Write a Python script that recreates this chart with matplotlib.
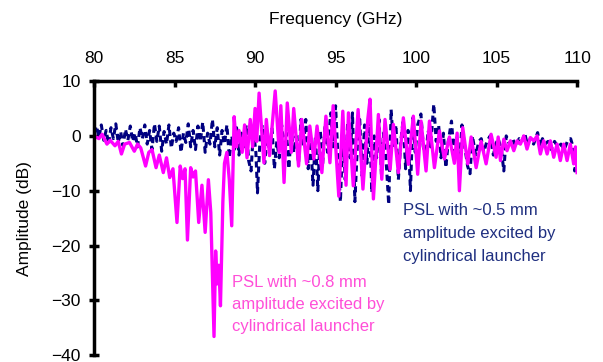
import matplotlib
matplotlib.use("Agg")
import matplotlib.pyplot as plt

plt.rcParams['font.family'] = ['Liberation Sans', 'DejaVu Sans']

# PSL with ~0.8 mm amplitude (magenta, solid)
freq_08 = [80.0, 80.3, 80.5, 80.8, 81.0, 81.3, 81.5, 81.7, 81.9, 82.2, 82.5, 82.7, 82.9,
           83.2, 83.4, 83.6, 83.85, 84.05, 84.3, 84.5, 84.7, 84.9, 85.15, 85.35, 85.5,
           85.65, 85.8, 86.0, 86.15, 86.3, 86.5, 86.7, 86.9, 87.1, 87.25, 87.45, 87.55,
           87.65, 87.75, 87.85, 88.0, 88.1, 88.25, 88.4, 88.55, 88.7, 88.85, 89.0, 89.2,
           89.35, 89.5, 89.7, 89.85, 90.0, 90.1, 90.25, 90.55, 90.7, 90.9, 91.25, 91.5,
           91.6, 91.8, 92.0, 92.25, 92.4, 92.7, 92.9, 93.2, 93.4, 93.65, 93.85, 94.15,
           94.4, 94.65, 94.85, 95.2, 95.45, 95.65, 95.8, 96.1, 96.4, 96.7, 97.0, 97.14,
           97.35, 97.66, 97.87, 98.07, 98.39, 98.59, 98.9, 99.21, 99.52, 99.83, 100.1,
           100.31, 100.62, 100.83, 101.14, 101.45, 101.76, 102.07, 102.38, 102.55, 102.69,
           102.9, 103.21, 103.42, 103.73, 104.04, 104.35, 104.66, 104.97, 105.1, 105.24,
           105.45, 105.65, 105.86, 106.07, 106.27, 106.48, 106.69, 106.89, 107.1, 107.31,
           107.52, 107.72, 107.93, 108.14, 108.34, 108.55, 108.76, 108.96, 109.17, 109.38,
           109.58, 109.79, 109.9, 110.0]
amp_08 = [0.0, -0.5, 0.3, -1.5, -0.8, -1.8, -1.0, -3.3, -1.5, -1.2, -2.8, -1.5, -2.2,
          -5.5, -3.0, -2.5, -5.8, -3.5, -6.7, -4.0, -7.6, -6.0, -15.8, -5.5, -7.8,
          -6.0, -19.0, -5.8, -7.5, -6.4, -15.8, -9.0, -17.6, -8.0, -14.0, -36.6, -21.0,
          -27.0, -23.6, -31.0, -12.0, -5.0, -3.0, -8.0, -16.4, 3.5, -2.0, 1.0, -3.0,
          2.0, -4.0, 3.0, -2.0, 5.0, -1.0, 7.8, -4.9, 3.0, -3.6, 8.2, -3.0,
          5.5, -8.5, 6.0, -3.0, 5.0, -5.5, 3.0, -5.1, 1.8, -4.2, 1.8, -6.7,
          3.6, -4.9, 5.5, -11.0, 4.5, -9.0, 4.2, -9.1, 4.8, -9.7, 3.0, 6.7,
          -11.5, 3.9, -7.9, 3.0, -6.1, 2.1, -6.7, 3.3, -5.2, 3.6, -7.0,
          2.7, -6.4, 2.7, -5.8, 0.9, -4.2, -0.2, -5.0, 0.5, -10.0,
          1.5, -5.1, -0.2, -5.8, -1.0, -5.1, 0.3, -3.9, -0.2, -4.5,
          -0.6, -2.7, -0.9, -2.7, -0.9, -1.5, 0.0, -2.4, -0.3, -0.9,
          0.0, -3.3, -0.9, -3.3, -0.9, -3.9, -1.5, -4.5, -1.5, -4.5,
          -1.5, -5.1, -2.0, -6.7]

# PSL with ~0.5 mm amplitude (navy, dashed)
freq_05 = [80.0, 80.15, 80.3, 80.45, 80.6, 80.75, 80.9, 81.05, 81.2, 81.35, 81.5, 81.65,
           81.8, 81.95, 82.1, 82.25, 82.4, 82.55, 82.7, 82.85, 83.0, 83.15, 83.3, 83.45,
           83.6, 83.75, 83.9, 84.05, 84.2, 84.35, 84.5, 84.65, 84.8, 84.95, 85.1, 85.25,
           85.4, 85.55, 85.7, 85.85, 86.0, 86.15, 86.3, 86.45, 86.6, 86.75, 86.9, 87.05,
           87.2, 87.35, 87.5, 87.65, 87.8, 87.95, 88.1, 88.25, 88.4, 88.55, 88.7, 88.85,
           89.0, 89.15, 89.3, 89.45, 89.6, 89.75, 89.9, 90.05, 90.15, 90.3, 90.45, 90.6,
           90.75, 90.9, 91.05, 91.2, 91.35, 91.5, 91.65, 91.8, 91.95, 92.1, 92.25, 92.4,
           92.55, 92.7, 92.85, 93.0, 93.15, 93.3, 93.45, 93.6, 93.75, 93.9, 94.05, 94.2,
           94.35, 94.5, 94.7, 94.85, 95.0, 95.15, 95.3, 95.45, 95.6, 95.75, 95.9, 96.05,
           96.2, 96.35, 96.5, 96.65, 96.8, 96.95, 97.1, 97.25, 97.4, 97.55, 97.7, 97.85,
           98.0, 98.15, 98.3, 98.45, 98.6, 98.75, 98.9, 99.05, 99.2, 99.35, 99.5, 99.65,
           99.8, 99.95, 100.1, 100.3, 100.45, 100.6, 100.75, 100.9, 101.1, 101.25, 101.4,
           101.55, 101.7, 101.85, 102.0, 102.2, 102.35, 102.5, 102.7, 102.85, 103.0, 103.2,
           103.35, 103.5, 103.7, 103.9, 104.05, 104.2, 104.4, 104.6, 104.8, 104.95, 105.1,
           105.3, 105.45, 105.6, 105.8, 106.0, 106.2, 106.4, 106.6, 106.75, 106.9, 107.1,
           107.3, 107.55, 107.7, 107.85, 108.0, 108.2, 108.4, 108.6, 108.8, 109.0, 109.2,
           109.4, 109.6, 109.75, 109.85, 110.0]
amp_05 = [0.5, 1.8, -0.3, 2.0, -0.8, 1.0, -1.5, 1.5, -0.5, 2.2, -1.2, 0.8,
          -1.8, 1.2, -0.8, 1.8, -1.0, 0.5, -2.0, 1.5, -0.5, 2.0, -1.5, 1.0,
          -2.5, 2.2, -1.0, 1.8, -2.8, 0.8, -1.5, 2.0, -2.2, 0.5, -1.0, 1.5,
          -3.0, 0.5, -1.2, 2.2, -2.0, 1.0, -2.5, 1.8, -1.0, 2.5, -3.0, 0.5,
          -1.5, 3.0, -2.0, 1.5, -3.5, 1.0, -1.5, 2.0, -4.0, 0.0, -2.5, 1.5,
          -3.5, 0.5, -2.0, 2.0, -4.5, -6.4, 1.0, -3.0, -10.4, -1.0, 2.0, -5.0,
          0.5, -3.5, 1.5, -6.0, -1.0, -4.0, 2.0, -2.5, 0.5, -6.0, 1.0, -3.0,
          0.0, -5.0, 3.0, -2.0, 3.0, -6.0, -1.0, -9.0, 0.0, -10.0, 1.0, -5.0,
          2.0, -3.0, 4.2, -2.0, 5.5, -4.0, -12.0, 0.0, -8.0, 2.5, -4.0, 4.2,
          -12.0, -2.0, 3.0, -7.3, 2.0, -5.0, 3.6, -10.3, 0.0, -4.0, 3.0, -7.0,
          1.0, -5.0, -12.5, 4.8, -2.0, 2.0, -8.0, -1.0, 3.0, -6.0, 1.0, -10.0,
          3.3, -3.0, 2.0, 4.0, -2.0, -3.9, 1.0, -2.0, 5.8, -1.0, 2.0,
          -4.0, 0.5, -5.8, -1.0, 2.7, -3.0, 0.0, -5.0, 2.0, -1.5, -5.5,
          -6.9, 0.0, -3.5, -1.0, -0.5, -3.0, -1.0, 0.0, -3.5, -1.5, -0.5,
          -2.5, -6.4, 0.0, -1.5, -0.5, -2.0, -0.5, -1.0, 0.5, -1.5, -0.5,
          -1.5, 0.6, -2.0, -0.5, -1.5, -1.0, -2.5, -1.0, -2.0, -1.5, -2.5,
          -1.0, -0.5, -2.0, -6.4, -3.0]

x_ticks = [80, 85, 90, 95, 100, 105, 110]
y_ticks = [-40, -30, -20, -10, 0, 10]

fig = plt.figure(figsize=(6.03, 3.62), dpi=100)
ax = fig.add_axes([0.156, 0.019, 0.801, 0.757])

ax.plot(freq_05, amp_05, color='#000080', lw=2.2, linestyle=(0, (2.0, 1.4)))
ax.plot(freq_08, amp_08, color='#ff00ff', lw=2.4)

ax.set_xlim(80, 110)
ax.set_ylim(-40, 10)
ax.set_xticks(x_ticks)
ax.set_yticks(y_ticks)

ax.xaxis.tick_top()
ax.xaxis.set_label_position('top')
ax.spines['bottom'].set_visible(False)
ax.spines['right'].set_visible(False)
ax.spines['top'].set_linewidth(2.5)
ax.spines['left'].set_linewidth(2.5)
ax.tick_params(axis='x', direction='in', length=4, width=2.5, labelsize=12.5, pad=11)
ax.tick_params(axis='y', direction='inout', length=7, width=2.5, labelsize=12.5, pad=6)

ax.set_xlabel('Frequency (GHz)', fontsize=12.5, labelpad=19)
ax.set_ylabel('Amplitude (dB)', fontsize=12.5, labelpad=14)

ax.text(99.2, -12.3, 'PSL with ~0.5 mm\namplitude excited by\ncylindrical launcher',
        color='#1f2f80', fontsize=12, va='top', ha='left', linespacing=1.65)
ax.text(88.55, -25.3, 'PSL with ~0.8 mm\namplitude excited by\ncylindrical launcher',
        color='#ff4fd8', fontsize=12, va='top', ha='left', linespacing=1.6)

fig.savefig('out.png', dpi=100)
